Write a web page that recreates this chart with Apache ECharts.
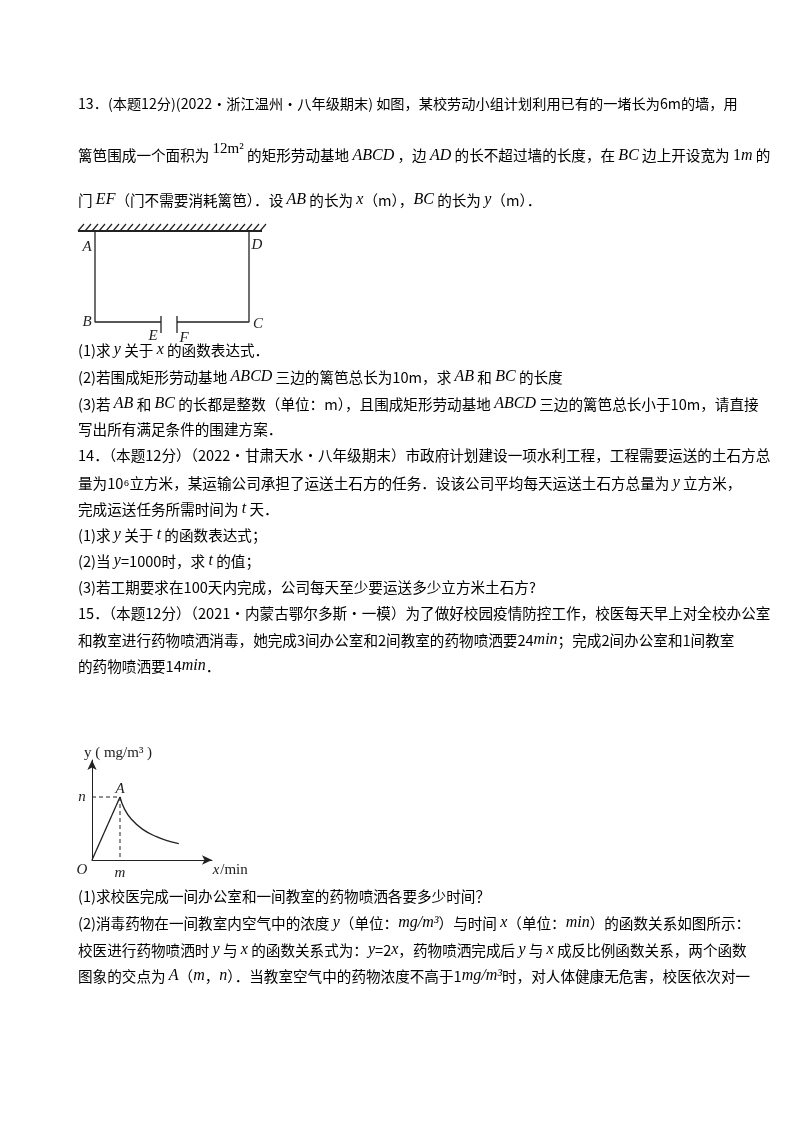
<!DOCTYPE html>
<html><head><meta charset="utf-8">
<script src="https://cdn.jsdelivr.net/npm/echarts@6/dist/echarts.min.js"></script>
<style>html,body{margin:0;background:#fff}#c{width:800px;height:1132px}</style>
</head><body><div id="c"></div>
<script>
// 文本行：[y, 内容, 字号]
const textLines = [
  [107, '13．(本题12分)(2022·浙江温州·八年级期末) 如图，某校劳动小组计划利用已有的一堵长为6m的墙，用', 14.2],
  [152, '篱笆围成一个面积为 {r|12m²} 的矩形劳动基地 {i|ABCD} ，边 {i|AD} 的长不超过墙的长度，在 {i|BC} 边上开设宽为 {t|1}{i|m} 的', 14.6],
  [202, '门 {i|EF}（门不需要消耗篱笆）．设 {i|AB} 的长为 {i|x}（m），{i|BC} 的长为 {i|y}（m）．', 14.6],
  [352, '(1)求 {i|y} 关于 {i|x} 的函数表达式．', 14.6],
  [379, '(2)若围成矩形劳动基地 {i|ABCD} 三边的篱笆总长为10m，求 {i|AB} 和 {i|BC} 的长度', 14.6],
  [406, '(3)若 {i|AB} 和 {i|BC} 的长都是整数（单位：m），且围成矩形劳动基地 {i|ABCD} 三边的篱笆总长小于10m，请直接', 14.6],
  [432, '写出所有满足条件的围建方案．', 14.6],
  [458, '14．（本题12分）（2022·甘肃天水·八年级期末）市政府计划建设一项水利工程，工程需要运送的土石方总', 14.6],
  [485, '量为10⁶立方米，某运输公司承担了运送土石方的任务．设该公司平均每天运送土石方总量为 {i|y} 立方米，', 14.6],
  [511, '完成运送任务所需时间为 {i|t} 天．', 14.6],
  [537, '(1)求 {i|y} 关于 {i|t} 的函数表达式；', 14.6],
  [563, '(2)当 {i|y}=1000时，求 {i|t} 的值；', 14.6],
  [590, '(3)若工期要求在100天内完成，公司每天至少要运送多少立方米土石方?', 14.6],
  [616, '15．（本题12分）（2021·内蒙古鄂尔多斯·一模）为了做好校园疫情防控工作，校医每天早上对全校办公室', 14.6],
  [642, '和教室进行药物喷洒消毒，她完成3间办公室和2间教室的药物喷洒要24{i|min}；完成2间办公室和1间教室', 14.6],
  [668, '的药物喷洒要14{i|min}．', 14.6],
  [899, '(1)求校医完成一间办公室和一间教室的药物喷洒各要多少时间？', 14.6],
  [925, '(2)消毒药物在一间教室内空气中的浓度 {i|y}（单位：{i|mg/m³}）与时间 {i|x}（单位：{i|min}）的函数关系如图所示：', 14.6],
  [952, '校医进行药物喷洒时 {i|y} 与 {i|x} 的函数关系式为：{i|y}=2{i|x}，药物喷洒完成后 {i|y} 与 {i|x} 成反比例函数关系，两个函数', 14.6],
  [978, '图象的交点为 {i|A}（{i|m}，{i|n}）．当教室空气中的药物浓度不高于1{i|mg/m³}时，对人体健康无危害，校医依次对一', 14.6]
];

// 矩形基地示意图（像素单位的坐标）
const wallX = [78, 262];
const rectPath = [[161, 322], [95, 322], [95, 231], [249, 231], [249, 322], [177, 322]];
const doorE = [[161, 316], [161, 333]];
const doorF = [[177, 316], [177, 333]];
const rectLabels = [['A', 87, 247], ['D', 257, 245], ['B', 87, 322], ['C', 258, 324], ['E', 153, 336], ['F', 184, 338]];

// 函数图像（单位：m=1, n=1）
const risePts = [[0, 0], [1, 1]];
const decayPts = [[1, 1], [1.15, 0.82], [1.4, 0.65], [1.8, 0.49], [2.3, 0.37], [2.8, 0.29], [3.1, 0.26]];

const chart = echarts.init(document.getElementById('c'));
const baseFont = '"Noto Sans CJK SC", sans-serif';
const rich = {
  i: { fontStyle: 'italic', fontFamily: '"Liberation Serif", serif', fontSize: 16, fill: '#000' },
  t: { fontFamily: '"Liberation Serif", serif', fontSize: 16 },
  r: { fontFamily: '"Liberation Serif", serif', fontSize: 15, padding: [0, 0, 12, 0] }
};
const graphics = textLines.map(([y, s, fs]) => ({
  type: 'text', left: 78, top: y - 10,
  style: { text: s, font: fs + 'px ' + baseFont, fill: '#000', rich: rich }
}));
rectLabels.forEach(([t, x, y]) => graphics.push({
  type: 'text', x: x, y: y, style: { text: t, font: 'italic 15px "Liberation Serif", serif', fill: '#222', align: 'center', verticalAlign: 'middle' }
}));
// 墙的阴影线
const hatch = [];
for (let x = wallX[0]; x < wallX[1]; x += 7) hatch.push(x);
hatch.forEach(x => graphics.push({ type: 'line', shape: { x1: x, y1: 231, x2: x + 6, y2: 224 }, style: { stroke: '#222', lineWidth: 1.2 } }));
graphics.push({ type: 'line', shape: { x1: wallX[0], y1: 231, x2: wallX[1], y2: 231 }, style: { stroke: '#222', lineWidth: 2 } });
// 函数图标签
[['y ( mg/m³ )', 118, 753, 'normal'], ['n', 82, 797, 'italic'], ['A', 120, 789, 'italic'], ['O', 82, 870, 'italic'], ['m', 120, 873, 'italic'], ['x', 216, 870, 'italic'], ['/min', 234, 870, 'normal']]
  .forEach(([t, x, y, st]) => graphics.push({ type: 'text', x: x, y: y, style: { text: t, font: st + ' 15px "Liberation Serif", serif', fill: '#222', align: 'center', verticalAlign: 'middle' } }));

const lineStyleBlack = { color: '#222', width: 1.3 };
chart.setOption({
  animation: false,
  grid: [
    { left: 0, top: 0, width: 800, height: 1132 },
    { left: 92, top: 760, width: 120, height: 100 }
  ],
  xAxis: [
    { gridIndex: 0, type: 'value', min: 0, max: 800, show: false },
    { gridIndex: 1, type: 'value', min: 0, max: 120 / 28, axisLine: { onZero: true, symbol: ['none', 'arrow'], symbolSize: [7, 10], lineStyle: { color: '#222' } }, axisTick: { show: false }, axisLabel: { show: false }, splitLine: { show: false } }
  ],
  yAxis: [
    { gridIndex: 0, type: 'value', min: 0, max: 1132, inverse: true, show: false },
    { gridIndex: 1, type: 'value', min: 0, max: 100 / 63, axisLine: { symbol: ['none', 'arrow'], symbolSize: [7, 10], lineStyle: { color: '#222' } }, axisTick: { show: false }, axisLabel: { show: false }, splitLine: { show: false } }
  ],
  series: [
    { type: 'line', xAxisIndex: 0, yAxisIndex: 0, data: rectPath, symbol: 'none', lineStyle: lineStyleBlack },
    { type: 'line', xAxisIndex: 0, yAxisIndex: 0, data: doorE, symbol: 'none', lineStyle: lineStyleBlack },
    { type: 'line', xAxisIndex: 0, yAxisIndex: 0, data: doorF, symbol: 'none', lineStyle: lineStyleBlack },
    { type: 'line', xAxisIndex: 1, yAxisIndex: 1, data: risePts, symbol: 'none', lineStyle: lineStyleBlack },
    { type: 'line', xAxisIndex: 1, yAxisIndex: 1, data: decayPts, symbol: 'none', smooth: true, lineStyle: lineStyleBlack },
    { type: 'line', xAxisIndex: 1, yAxisIndex: 1, data: [[0, 1], [1, 1], [1, 0]], symbol: 'none', lineStyle: { color: '#222', width: 1, type: [4, 3] } }
  ],
  graphic: graphics
});
</script></body></html>
